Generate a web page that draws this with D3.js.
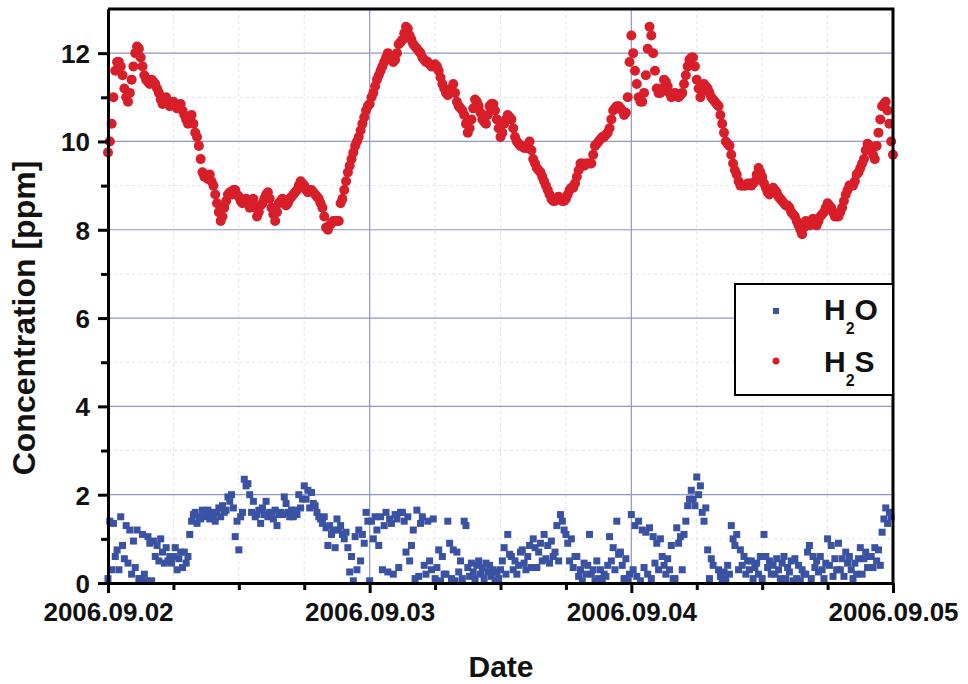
<!DOCTYPE html>
<html>
<head>
  <script src="https://cdn.jsdelivr.net/npm/d3@7"></script>
  <style>
    body { margin: 0; background: #fff; }
    text { font-family: "Liberation Sans", Arial, sans-serif; font-weight: bold; fill: #111; }
  </style>
</head>
<body>
  <svg width="968" height="684" id="mainsvg"></svg>
  <script>
    // H2S, one reading every 10 min from 2006.09.02 00:00 (one row = 1 h)
    const h2sStep = 10;
    const h2s = [
      9.75, 10.0, 10.4, 11.0, 11.6, 11.8,
      11.8, 11.7, 11.5, 11.2, 11.0, 10.9,
      11.1, 11.4, 11.7, 12.0, 12.15, 12.1,
      11.9, 11.7, 11.5, 11.4, 11.35, 11.3,
      11.4, 11.35, 11.3, 11.2, 11.1, 10.95,
      10.85, 10.9, 11.0, 10.9, 10.8, 10.85,
      10.9, 10.8, 10.75, 10.8, 10.85, 10.7,
      10.6, 10.5, 10.4, 10.5, 10.6, 10.4,
      10.2, 10.1, 9.9, 9.6, 9.3, 9.2,
      9.2, 9.15, 9.25, 9.1, 9.0, 8.8,
      8.6, 8.4, 8.2, 8.3, 8.5, 8.65,
      8.8, 8.85, 8.8, 8.9, 8.9, 8.8,
      8.75, 8.65, 8.6, 8.65, 8.7, 8.6,
      8.5, 8.6, 8.7, 8.5, 8.3, 8.4,
      8.55, 8.6, 8.7, 8.8, 8.85, 8.7,
      8.5, 8.35, 8.2, 8.4, 8.6, 8.65,
      8.7, 8.6, 8.55, 8.6, 8.7, 8.75,
      8.8, 8.85, 8.9, 9.0, 9.1, 9.05,
      9.0, 8.9, 8.85, 8.9, 8.9, 8.85,
      8.8, 8.75, 8.7, 8.6, 8.5, 8.3,
      8.05, 8.0, 8.1, 8.15, 8.2, 8.2,
      8.2, 8.2, 8.6, 8.7, 8.9, 9.1,
      9.3, 9.45, 9.6, 9.75, 9.9, 10.0,
      10.1, 10.25, 10.4, 10.55, 10.7, 10.8,
      10.85, 11.0, 11.1, 11.25, 11.4, 11.5,
      11.6, 11.7, 11.8, 11.9, 12.0, 11.95,
      11.9, 11.8, 11.85, 12.0, 12.2, 12.25,
      12.3, 12.45, 12.6, 12.55, 12.4, 12.3,
      12.2, 12.15, 12.1, 12.05, 12.0, 11.9,
      11.85, 11.8, 11.8, 11.75, 11.7, 11.7,
      11.75, 11.7, 11.6, 11.45, 11.3, 11.2,
      11.1, 11.05, 11.1, 11.2, 11.3, 11.1,
      10.9, 10.8, 10.75, 10.7, 10.6, 10.4,
      10.2, 10.3, 10.5, 10.75, 10.95, 10.9,
      10.8, 10.65, 10.5, 10.45, 10.4, 10.6,
      10.8, 10.85, 10.85, 10.7, 10.5, 10.3,
      10.1, 10.2, 10.4, 10.5, 10.6, 10.55,
      10.5, 10.3, 10.1, 10.0, 9.95, 9.9,
      9.9, 9.85, 9.85, 9.9, 10.0, 9.8,
      9.6, 9.5, 9.4, 9.35, 9.3, 9.2,
      9.1, 9.0, 8.9, 8.8, 8.7, 8.65,
      8.65, 8.7, 8.75, 8.7, 8.65, 8.65,
      8.7, 8.8, 8.9, 8.95, 8.95, 9.05,
      9.2, 9.35, 9.5, 9.5, 9.45, 9.5,
      9.5, 9.5, 9.5, 9.7, 9.9, 9.95,
      10.0, 10.05, 10.1, 10.1, 10.15, 10.2,
      10.3, 10.5, 10.7, 10.75, 10.8, 10.8,
      10.75, 10.7, 10.6, 10.65, 11.0, 11.8,
      12.4, 12.0, 11.6, 11.3, 11.0, 10.9,
      10.9, 11.1, 11.5, 12.1, 12.6, 12.4,
      12.0, 11.6, 11.2, 11.1, 11.1, 11.2,
      11.4, 11.35, 11.25, 11.1, 11.0, 11.05,
      11.1, 11.05, 11.0, 11.05, 11.1, 11.3,
      11.5, 11.7, 11.85, 11.9, 11.9, 11.7,
      11.4, 11.2, 11.0, 11.15, 11.3, 11.25,
      11.2, 11.1, 11.0, 10.95, 10.9, 10.85,
      10.8, 10.6, 10.4, 10.2, 10.0, 9.95,
      9.9, 9.7, 9.5, 9.35, 9.25, 9.1,
      9.0, 9.0, 9.0, 9.0, 9.05, 9.05,
      9.0, 9.05, 9.1, 9.25, 9.4, 9.3,
      9.2, 9.05, 8.95, 8.85, 8.8, 8.9,
      8.95, 8.9, 8.85, 8.75, 8.7, 8.65,
      8.6, 8.55, 8.55, 8.5, 8.4, 8.35,
      8.3, 8.2, 8.1, 8.0, 7.9, 8.05,
      8.2, 8.15, 8.1, 8.2, 8.25, 8.15,
      8.1, 8.2, 8.3, 8.35, 8.4, 8.5,
      8.6, 8.55, 8.5, 8.4, 8.3, 8.3,
      8.3, 8.4, 8.5, 8.65, 8.8, 8.9,
      9.0, 9.0, 9.0, 9.1, 9.25, 9.3,
      9.4, 9.5, 9.6, 9.8, 9.95, 9.9,
      9.8, 9.7, 9.6, 9.9, 10.2, 10.5,
      10.8, 10.85, 10.9, 10.7, 10.4, 10.0,
      9.7
    ];

    // H2O, one reading every 10 min from 2006.09.02 00:00 (one row = 1 h)
    const h2oStep = 10;
    const h2o = [
      0.1, 1.4, 0.3, 1.35, 0.6, 0.75,
      0.3, 1.5, 0.85, 0.55, 1.3, 0.45,
      1.2, 0.2, 0.95, 0.35, 1.2, 0.1,
      0.1, 1.1, 0.2, 0.05, 1.05, 0.9,
      0.05, 0.95, 0.6, 0.85, 0.5, 1.0,
      0.7, 0.45, 0.8, 0.5, 0.6, 0.45,
      0.6, 0.8, 0.3, 0.55, 0.7, 0.35,
      0.7, 0.45, 0.6, 1.1, 1.4, 1.55,
      1.6, 1.35, 1.5, 1.45, 1.65, 1.5,
      1.55, 1.65, 1.45, 1.6, 1.5, 1.4,
      1.6, 1.7, 1.5, 1.75, 1.6, 1.65,
      1.95, 1.85, 2.0, 1.7, 1.05, 1.4,
      0.75, 1.5, 1.6, 2.35, 2.2, 2.25,
      2.0, 1.6, 1.85, 1.5, 1.55, 1.65,
      1.35, 1.7, 1.55, 1.85, 1.5, 1.6,
      1.6, 1.45, 1.65, 1.3, 1.55, 1.6,
      1.55, 1.95, 1.8, 1.6, 1.5, 1.65,
      1.5, 1.65, 1.55, 2.0, 1.7, 1.9,
      2.2, 1.9, 2.1, 1.7, 2.05, 1.8,
      1.75, 1.6, 1.5, 1.45, 1.35, 1.5,
      1.25, 0.85, 1.3, 1.1, 1.2, 0.8,
      1.45, 1.2, 1.3, 1.1, 1.0, 1.15,
      0.8, 0.25, 0.6, 0.05, 1.05, 0.3,
      1.2, 0.5, 1.1, 0.9, 1.6, 1.4,
      0.05, 1.4, 1.0, 1.5, 1.2, 0.85,
      1.5, 0.3, 1.3, 1.6, 0.25, 1.45,
      1.35, 0.2, 1.55, 1.45, 0.35, 1.6,
      1.6, 1.4, 0.7, 1.5, 0.5, 0.85,
      1.2, 0.1, 1.65, 0.15, 1.35, 1.5,
      0.4, 0.2, 1.4, 0.5, 0.3, 1.45,
      0.1, 0.35, 0.75, 0.05, 0.6, 0.2,
      0.2, 1.4, 0.9, 0.1, 0.75, 0.05,
      0.7, 0.25, 0.5, 0.1, 1.4, 1.3,
      0.35, 0.15, 0.45, 0.25, 0.1, 0.4,
      0.5, 0.2, 0.35, 0.1, 0.45, 0.25,
      0.4, 0.15, 0.3, 0.05, 0.25, 0.1,
      0.3, 0.5, 0.8, 0.2, 1.1, 0.65,
      0.6, 0.3, 0.5, 0.2, 0.4, 0.7,
      0.75, 0.45, 0.3, 0.6, 0.85, 0.35,
      1.0, 0.8, 0.35, 0.7, 0.9, 0.5,
      1.1, 0.55, 0.85, 0.45, 0.95, 0.6,
      0.7, 1.3, 0.5, 1.55, 1.4, 1.2,
      1.1, 0.9, 0.5, 1.0, 0.35, 0.6,
      0.6, 0.15, 0.3, 0.05, 0.45, 0.2,
      0.4, 1.1, 0.2, 0.3, 0.05, 0.5,
      0.1, 0.3, 0.05, 0.2, 0.15, 0.4,
      1.05, 0.5, 0.8, 0.3, 1.4, 0.65,
      0.7, 0.4, 0.1, 0.55, 0.05, 0.2,
      1.55, 0.3, 1.3, 0.15, 1.4, 0.05,
      1.2, 0.35, 1.15, 0.2, 1.25, 0.1,
      1.05, 0.45, 0.9, 0.3, 1.0, 0.6,
      0.4, 0.2, 0.55, 0.3, 0.85, 0.1,
      0.1, 1.25, 0.9, 1.05, 0.3, 1.1,
      1.4, 1.75, 1.9, 2.1, 1.9, 1.75,
      2.4, 2.0, 2.2, 1.6, 1.4, 1.7,
      0.75, 0.1, 0.55, 0.4, null, null,
      0.3, 0.15, 0.05, 0.25, 0.1, 0.4,
      0.2, 1.3, 1.0, 0.85, 1.1, 0.3,
      0.75, 0.4, 0.6, 0.2, 0.5, 0.3,
      0.5, 0.1, 0.35, 0.45, 0.2, 0.6,
      0.1, 1.1, 0.6, 0.35, 0.5, 0.2,
      0.4, 0.2, 0.55, 0.3, 0.1, 0.45,
      0.6, 0.1, 0.35, 0.25, 0.5, 0.05,
      0.55, 0.1, 0.4, 0.05, 0.3, 0.2,
      0.2, 0.7, 0.85, 0.1, 0.6, 0.35,
      0.5, 0.25, 0.6, 0.3, 0.1, 0.45,
      1.0, 0.4, 0.85, 0.15, 0.55, 0.3,
      0.9, 0.3, 0.55, 0.15, 0.7, 0.45,
      0.6, 0.3, 0.1, 0.45, 0.2, 0.55,
      0.8, 0.2, 0.55, 0.7, 0.35, 0.6,
      0.6, 0.35, 0.8, 0.5, 0.75, 0.4,
      1.15, 1.45, 1.7, 1.35, 1.6, 1.5
    ];

    const yMajor = [0, 2, 4, 6, 8, 10, 12];
    const yMinor = [1, 3, 5, 7, 9, 11];
    const dayTicks = ['2006.09.02', '2006.09.03', '2006.09.04', '2006.09.05'];
    const legendItems = ['H2O', 'H2S'];

    const svg = d3.select('#mainsvg');
    const parseDay = d3.timeParse('%Y.%m.%d');
    const days = dayTicks.map(parseDay);
    const t0 = days[0];

    const x = d3.scaleTime().domain([days[0], days[days.length - 1]]).range([108, 893]);
    const y = d3.scaleLinear().domain([0, 13]).range([583, 9]);
    const minorX = d3.timeHour.every(6).range(days[0], days[days.length - 1])
      .filter(d => d.getHours() !== 0);

    const blue = '#3a52a3', red = '#d81e29';
    const g = svg.append('g');

    // grid
    g.selectAll('.ygm').data(yMinor).join('line')
      .attr('x1', 108).attr('x2', 893).attr('y1', d => y(d)).attr('y2', d => y(d))
      .attr('stroke', '#e2e2e2').attr('stroke-dasharray', '3,3');
    g.selectAll('.xgm').data(minorX).join('line')
      .attr('x1', d => x(d)).attr('x2', d => x(d)).attr('y1', 9).attr('y2', 583)
      .attr('stroke', '#e2e2e2').attr('stroke-dasharray', '3,3');
    g.selectAll('.yg').data(yMajor.slice(1)).join('line')
      .attr('x1', 108).attr('x2', 893).attr('y1', d => y(d)).attr('y2', d => y(d))
      .attr('stroke', '#9096c8').attr('stroke-width', 1.2);
    g.selectAll('.xg').data(days.slice(1, -1)).join('line')
      .attr('x1', d => x(d)).attr('x2', d => x(d)).attr('y1', 9).attr('y2', 583)
      .attr('stroke', '#9096c8').attr('stroke-width', 1.2);

    // data
    const h2oPts = h2o.map((v, i) => ({ t: d3.timeMinute.offset(t0, i * h2oStep), v })).filter(d => d.v !== null);
    const h2sPts = h2s.map((v, i) => ({ t: d3.timeMinute.offset(t0, i * h2sStep), v }));

    g.append('g').selectAll('rect').data(h2oPts).join('rect')
      .attr('x', d => x(d.t) - 3.5).attr('y', d => y(d.v) - 3.5)
      .attr('width', 7).attr('height', 7).attr('fill', blue);

    g.append('g').selectAll('circle').data(h2sPts).join('circle')
      .attr('cx', d => x(d.t)).attr('cy', d => y(d.v)).attr('r', 5).attr('fill', red);

    // frame
    svg.append('path').attr('d', 'M108,9H893V583')
      .attr('fill', 'none').attr('stroke', '#000').attr('stroke-width', 3);

    // axes
    const yAxis = svg.append('g').attr('transform', 'translate(108,0)')
      .call(d3.axisLeft(y).tickValues(yMajor).tickSize(10).tickPadding(8).tickSizeOuter(0));
    svg.append('g').attr('transform', 'translate(108,0)')
      .call(d3.axisLeft(y).tickValues(yMinor).tickSize(7).tickFormat('').tickSizeOuter(0))
      .select('.domain').remove();
    const xAxis = svg.append('g').attr('transform', 'translate(0,583)')
      .call(d3.axisBottom(x).tickValues(days).tickSize(10).tickPadding(10)
        .tickFormat(d3.timeFormat('%Y.%m.%d')).tickSizeOuter(0));
    svg.append('g').attr('transform', 'translate(0,583)')
      .call(d3.axisBottom(x).tickValues(minorX).tickSize(7).tickFormat('').tickSizeOuter(0))
      .select('.domain').remove();

    svg.selectAll('.domain').attr('stroke-width', 3);
    svg.selectAll('.tick line').attr('stroke-width', 3);
    yAxis.selectAll('text').attr('font-size', 26).attr('dy', '0.36em');
    xAxis.selectAll('text').attr('font-size', 26);

    // titles
    svg.append('text').attr('x', 501).attr('y', 677).attr('text-anchor', 'middle')
      .attr('font-size', 30).text('Date');
    svg.append('text').attr('transform', 'translate(35,318) rotate(-90)')
      .attr('text-anchor', 'middle').attr('font-size', 32).text('Concentration [ppm]');

    // legend
    const lg = svg.append('g');
    lg.append('rect').attr('x', 735).attr('y', 284).attr('width', 158).attr('height', 111)
      .attr('fill', '#fff').attr('stroke', '#000').attr('stroke-width', 2);
    lg.append('rect').attr('x', 773).attr('y', 308).attr('width', 6).attr('height', 6).attr('fill', blue);
    lg.append('circle').attr('cx', 776).attr('cy', 361).attr('r', 3.5).attr('fill', red);
    legendItems.forEach((name, i) => {
      const t = lg.append('text').attr('x', 824).attr('y', 320 + i * 52).attr('font-size', 30);
      t.append('tspan').text(name[0]);
      t.append('tspan').attr('font-size', 16).attr('dy', 14).text(name[1]);
      t.append('tspan').attr('dy', -14).text(name.slice(2));
    });
  </script>
</body>
</html>
